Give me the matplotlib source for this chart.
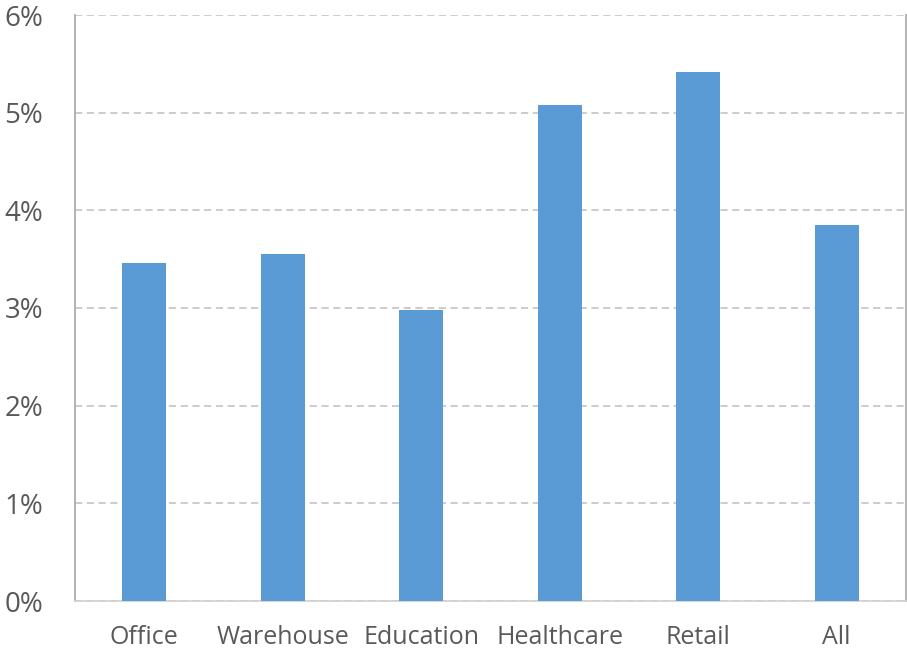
import matplotlib.pyplot as plt
from matplotlib.ticker import FuncFormatter

categories = ["Office", "Warehouse", "Education", "Healthcare", "Retail", "All"]
values = [3.46, 3.55, 2.98, 5.08, 5.42, 3.85]
y_ticks = [0, 1, 2, 3, 4, 5, 6]

BAR_COLOR = "#5B9BD5"
TEXT_COLOR = "#595959"

plt.rcParams["font.family"] = ["Open Sans", "DejaVu Sans"]

fig = plt.figure(figsize=(9.07, 6.52), dpi=100)
ax = fig.add_axes([75 / 907, 51 / 652, 831 / 907, 586 / 652])

x = range(len(categories))
ax.bar(x, values, width=0.32, color=BAR_COLOR, zorder=3)

ax.set_xlim(-0.5, len(categories) - 0.5)
ax.set_ylim(0, 6)
ax.set_yticks(y_ticks)
ax.yaxis.set_major_formatter(FuncFormatter(lambda v, _: f"{v:.0f}%"))
ax.set_xticks(list(x))
ax.set_xticklabels(categories)

ax.grid(axis="y", color="#c8c8c8", linestyle=(0, (4, 2.5)), linewidth=1.3, zorder=0)
ax.tick_params(axis="y", length=0, pad=23, labelsize=20, labelcolor=TEXT_COLOR)
ax.tick_params(axis="x", length=0, pad=17, labelsize=18, labelcolor=TEXT_COLOR)

ax.spines["top"].set_visible(False)
ax.spines["left"].set_color("#a6a6a6")
ax.spines["right"].set_color("#a6a6a6")
ax.spines["bottom"].set_color("#d0d0d0")
for s in ("left", "right", "bottom"):
    ax.spines[s].set_linewidth(1.2)

fig.savefig("out.png", dpi=100, facecolor="white")
